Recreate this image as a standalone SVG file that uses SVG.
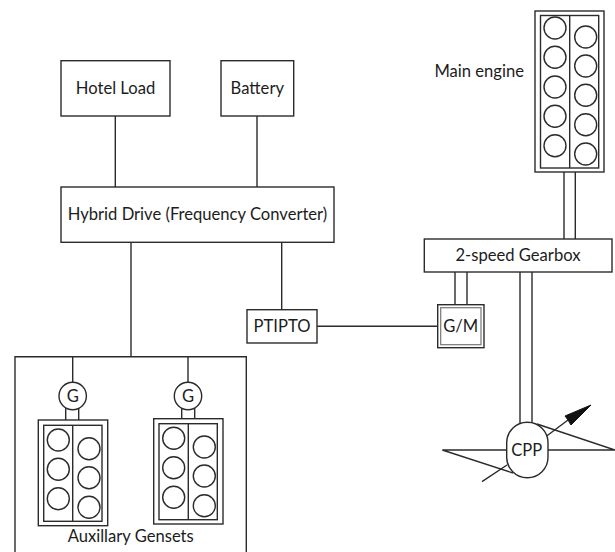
<svg xmlns="http://www.w3.org/2000/svg" width="615" height="552" viewBox="0 0 615 552">
<style>
.s{fill:#fff;stroke:#2b2b2b;stroke-width:1.4}
.n{fill:none;stroke:#2b2b2b;stroke-width:1.4}
.c{fill:none;stroke:#2b2b2b;stroke-width:1.4}
text{font-family:"Lato","Open Sans",sans-serif;font-size:16.6px;fill:#1c1c1c;text-anchor:middle}
</style>
<rect width="615" height="552" fill="#fff"/>
<g id="connectors">
<path class="n" d="M115.3 116V187M257 116V187M131 242.3V357M281.7 242.3V309.7M317 326.3H437.7M72.7 357V382.3M188 357V382.3"/>
<path class="n" d="M564 172V239M575.3 172V239M455 272V305M467 272V305M520 272V423M532 272V423"/>
<path class="n" d="M65.7 408V420M78.7 408V420M181.7 408V418.7M194.7 408V418.7"/>
</g>
<g id="hotel-load"><rect class="s" x="61" y="60.7" width="109" height="55.3"/><text x="115.5" y="93.7">Hotel Load</text></g>
<g id="battery"><rect class="s" x="221" y="60.7" width="72.7" height="55.3"/><text x="257.3" y="93.7">Battery</text></g>
<g id="hybrid-drive"><rect class="s" x="61" y="187" width="273" height="55.3"/><text x="197.5" y="220">Hybrid Drive (Frequency Converter)</text></g>
<g id="ptipto"><rect class="s" x="247" y="309.7" width="70" height="33.3"/><text x="282" y="331.7">PTIPTO</text></g>
<g id="gm"><rect class="s" x="437.7" y="304.7" width="46.3" height="43"/><rect x="440.7" y="307.7" width="40.3" height="37" fill="#fff" stroke="#777" stroke-width="1.2"/><text x="460.7" y="332">G/M</text></g>
<g id="gearbox"><rect class="s" x="424.3" y="239" width="187.7" height="33"/><text x="518" y="260.7">2-speed Gearbox</text></g>
<g id="main-engine">
<rect class="s" x="535" y="11" width="69" height="161"/>
<rect class="s" x="540.5" y="15.5" width="58.2" height="152.5"/>
<path class="n" d="M569.7 15.5V168"/>
<g class="c"><circle cx="555" cy="28" r="11"/><circle cx="555" cy="57.3" r="11"/><circle cx="555" cy="87" r="11"/><circle cx="555" cy="116.3" r="11"/><circle cx="555" cy="145.7" r="11"/><circle cx="585.7" cy="37" r="11"/><circle cx="585.7" cy="66" r="11"/><circle cx="585.7" cy="95.3" r="11"/><circle cx="585.7" cy="124.7" r="11"/><circle cx="585.7" cy="154" r="11"/></g>
<text x="479.2" y="77">Main engine</text>
</g>
<g id="auxiliary-gensets">
<path class="n" d="M15 552V356.7H246.3V552"/>
<text x="130.7" y="542">Auxillary Gensets</text>
</g>
<g id="generator-1"><circle class="s" cx="72.7" cy="396" r="13.7"/><text x="72.7" y="401.5">G</text></g>
<g id="generator-2"><circle class="s" cx="188" cy="396" r="13.7"/><text x="188" y="401.5">G</text></g>
<g id="genset-1">
<rect class="s" x="38.3" y="420" width="69.4" height="105.7"/>
<rect class="s" x="43.7" y="425.3" width="58.3" height="96"/>
<path class="n" d="M72.7 425.3V521.3"/>
<g class="c"><circle cx="58.3" cy="440" r="11"/><circle cx="58.3" cy="469.3" r="11"/><circle cx="58.3" cy="498.7" r="11"/><circle cx="89" cy="448.7" r="11"/><circle cx="89" cy="477.7" r="11"/><circle cx="89" cy="507.3" r="11"/></g>
</g>
<g id="genset-2">
<rect class="s" x="153.7" y="418.7" width="69.3" height="105.3"/>
<rect class="s" x="159" y="423.7" width="58.3" height="96"/>
<path class="n" d="M188.3 423.7V519.7"/>
<g class="c"><circle cx="173.7" cy="438.3" r="11"/><circle cx="173.7" cy="467.7" r="11"/><circle cx="173.7" cy="497.3" r="11"/><circle cx="204.3" cy="447" r="11"/><circle cx="204.3" cy="476" r="11"/><circle cx="204.3" cy="505.7" r="11"/></g>
</g>
<g id="cpp">
<path class="n" d="M442.3 450H506.7M548 450H615M442.3 450L513 473M537 424L615 450"/>
<path class="n" d="M482 481.7L507 465M546.7 436L568 420"/>
<path d="M591 405L565 416L568 420L571 425Z" fill="#111" stroke="#111" stroke-width="1"/>
<rect class="s" x="506.7" y="422.3" width="41.3" height="55.4" rx="20.5" ry="20.5"/>
<text x="526.7" y="455.5">CPP</text>
</g>
</svg>
